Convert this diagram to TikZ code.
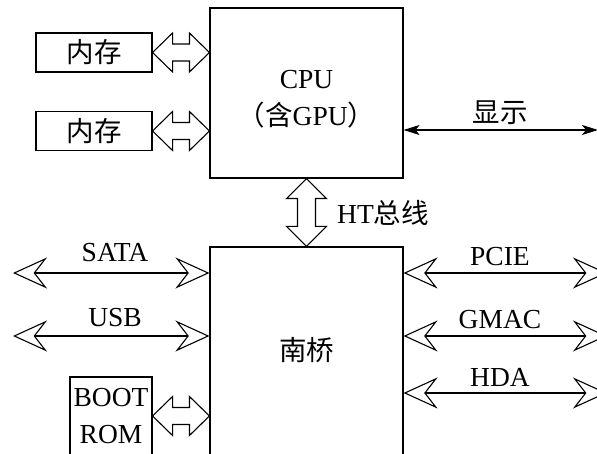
\documentclass[tikz,border=0pt]{standalone}
\usepackage{fontspec}
\setmainfont{Liberation Serif}
\newfontfamily\cjk{Noto Sans CJK SC}
\usetikzlibrary{arrows.meta, positioning, calc}

% hollow bus arrows (tip to tip)
\newcommand{\hbus}[2]{%
  \draw (#1) -- ++(20,19.5) -- ++(0,-11) -- ($(#2)+(-20,8.5)$) -- ++(0,11)
    -- (#2) -- ++(-20,-19.5) -- ++(0,11) -- ($(#1)+(20,-8.5)$) -- ++(0,-11) -- cycle;}
\newcommand{\vbus}[2]{%
  \draw (#1) -- ++(20,-20) -- ++(-11,0) -- ($(#2)+(9,20)$) -- ++(11,0)
    -- (#2) -- ++(-20,20) -- ++(11,0) -- ($(#1)+(-9,-20)$) -- ++(-11,0) -- cycle;}

\begin{document}
\begin{tikzpicture}[x=1pt, y=1pt, line width=1.1pt,
  font=\fontsize{27.5}{37}\selectfont,
  box/.style={draw, inner sep=0pt, align=center},
  open/.style={{Stealth[open, length=34pt, width=31pt, inset=12pt]}-{Stealth[open, length=34pt, width=31pt, inset=12pt]}},
  solid/.style={{Stealth[length=16pt, width=10pt, inset=4pt]}-{Stealth[length=16pt, width=10pt, inset=4pt]}}]
  \useasboundingbox (0,0) rectangle (597,454);
  % CPU and memory
  \node[box, minimum width=193, minimum height=170,
    label={[yshift=-6, align=center]center:{CPU\\{\cjk （含}GPU{\cjk ）}}}] (cpu) at (306.5,361) {};
  \node[box, minimum width=116, minimum height=39] (m1) at (94,401.5) {\cjk 内存};
  \node[box, minimum width=116, minimum height=39] (m2) at (94,323) {\cjk 内存};
  \hbus{m1.east}{m1.east -| cpu.west}
  \hbus{m2.east}{m2.east -| cpu.west}
  % display
  \coordinate (disp) at (598,324);
  \draw[solid] (disp -| cpu.east) -- (disp);
  \node at (500,341) {\cjk 显示};
  % south bridge
  \node[box, minimum width=193, minimum height=250,
    label={[yshift=22]center:{\cjk 南桥}}] (sb) at (306.5,82) {};
  \vbus{cpu.south}{sb.north}
  \node at (383,241) {HT{\cjk 总线}};
  % left side buses
  \coordinate (sata) at (13,181);
  \coordinate (usb) at (13,118);
  \draw[open] (sata) -- (sata -| sb.west);
  \draw[open] (usb) -- (usb -| sb.west);
  \node at (115,201) {SATA};
  \node at (115,136) {USB};
  \node[box, minimum width=82, minimum height=120,
    label={[yshift=21, align=center]center:{BOOT\\ROM}}] (rom) at (111,17) {};
  \hbus{rom.east |- 0,38}{sb.west |- 0,38}
  % right side buses
  \foreach \y/\t in {181/PCIE, 118/GMAC, 61/HDA} {
    \coordinate (r\y) at (607,\y);
    \draw[open] (r\y -| sb.east) -- (r\y);
    \node at (500,\y+16) {\t};
  }
\end{tikzpicture}
\end{document}
